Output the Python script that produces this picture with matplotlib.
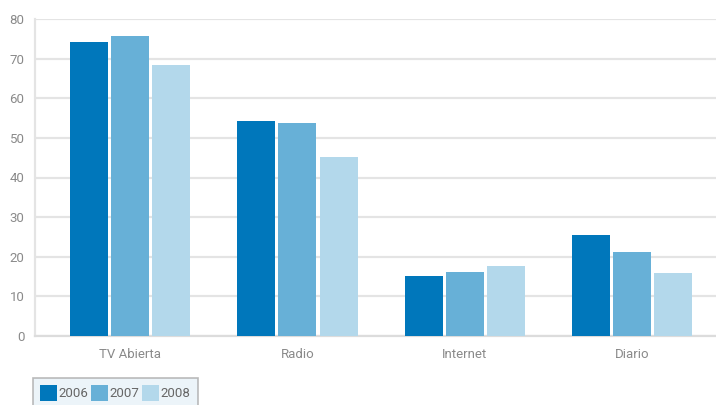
"""Bar chart: audiencia por medio, 2006-2008."""

import numpy as np
import matplotlib
matplotlib.use("Agg")
import matplotlib.pyplot as plt

plt.rcParams["font.family"] = ["Roboto", "DejaVu Sans"]

categories = ["TV Abierta", "Radio", "Internet", "Diario"]
years = ["2006", "2007", "2008"]
values_2006 = [74.2, 54.3, 15.2, 25.5]
values_2007 = [75.8, 53.8, 16.2, 21.2]
values_2008 = [68.4, 45.2, 17.7, 15.9]
yticks = [0, 10, 20, 30, 40, 50, 60, 70, 80]

colors = ["#0077BB", "#67B0D7", "#B3D8EB"]
grid_col = "#e4e4e4"
text_col = "#8a8a8a"

fig = plt.figure(figsize=(7.16, 4.05), dpi=100)
ax = fig.add_axes([35 / 716, 1 - 336 / 405, 681 / 716, (336 - 19) / 405])

x = np.arange(len(categories))
width = 0.227
step = 0.245
series = [values_2006, values_2007, values_2008]
bars = []
for i, (vals, c) in enumerate(zip(series, colors)):
    b = ax.bar(x + (i - 1) * step, vals, width=width, color=c, zorder=3, linewidth=0)
    bars.append(b)

ax.set_ylim(0, 80)
ax.set_xlim(-0.568, 3.5)
ax.set_yticks(yticks)
ax.set_xticks(x)
ax.set_xticklabels(categories)
ax.yaxis.grid(True, color=grid_col, linewidth=1.6, zorder=0)
ax.set_axisbelow(True)

for side in ["top", "right"]:
    ax.spines[side].set_visible(False)
ax.spines["left"].set_color(grid_col)
ax.spines["left"].set_linewidth(1.6)
ax.spines["bottom"].set_color("#dcdcdc")
ax.spines["bottom"].set_linewidth(1.6)

ax.tick_params(axis="y", length=0, pad=7.5, labelsize=9.5, labelcolor=text_col)
ax.tick_params(axis="x", length=0, pad=9, labelsize=9.5, labelcolor=text_col)

# legend box is clipped by the bottom edge in the original
leg = fig.legend(
    [b[0] for b in bars], years,
    loc="upper left", bbox_to_anchor=(33 / 716, 1 - 378 / 405),
    ncol=3, frameon=True, fancybox=False,
    fontsize=9.5, handlelength=1.25, handleheight=1.45,
    handletextpad=0.15, columnspacing=0.2, borderpad=0.55,
    borderaxespad=0,
)
frame = leg.get_frame()
frame.set_facecolor("#e8f2f8")
frame.set_edgecolor("#aaaaaa")
frame.set_linewidth(1.2)
for t in leg.get_texts():
    t.set_color("#666666")

fig.savefig("out.png", dpi=100)
